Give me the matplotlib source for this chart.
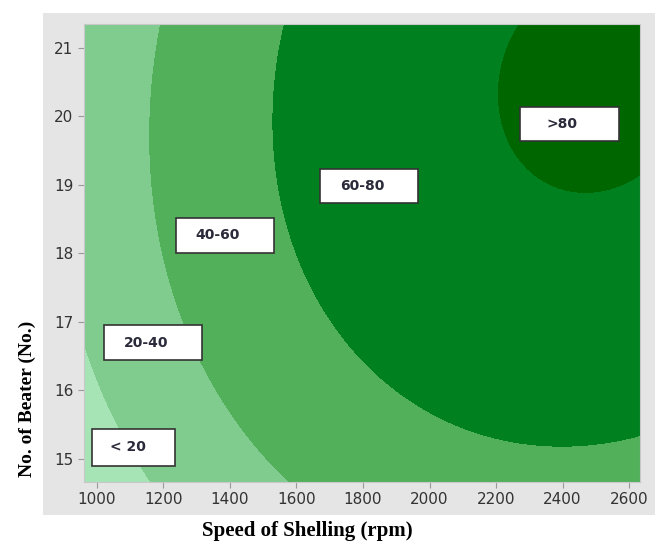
import numpy as np
import matplotlib.pyplot as plt
from matplotlib.patches import Rectangle

# fitted response surface
# Z = z_max - k_xx*u^2 - k_yy*v^2 + k_xy*u*v,  u=(speed-speed_opt)/1000, v=beater-beater_opt
z_max = 82.0
speed_opt = 2500.0
beater_opt = 20.49
k_xx = 23.6
k_yy = 0.79
k_xy = 0.91

speed_range = [961, 2633]
beater_range = [14.66, 21.35]

levels = [-100, 20, 40, 60, 80, 200]
level_labels = ["< 20", "20-40", "40-60", "60-80", ">80"]
level_colors = ["#a6e4b6", "#80cc8f", "#52b05b", "#00801f", "#006600"]

x_ticks = [1000, 1200, 1400, 1600, 1800, 2000, 2200, 2400, 2600]
y_ticks = [15, 16, 17, 18, 19, 20, 21]

# label box positions (data coords: left, bottom, width, height)
boxes = {
    "< 20": (985, 14.90, 250, 0.54),
    "20-40": (1020, 16.44, 295, 0.51),
    "40-60": (1237, 18.01, 295, 0.51),
    "60-80": (1670, 18.73, 295, 0.50),
    ">80": (2271, 19.64, 298, 0.50),
}

speed = np.linspace(speed_range[0], speed_range[1], 400)
beater = np.linspace(beater_range[0], beater_range[1], 400)
X, Y = np.meshgrid(speed, beater)
U = (X - speed_opt) / 1000.0
V = Y - beater_opt
Z = z_max - k_xx * U**2 - k_yy * V**2 + k_xy * U * V

fig = plt.figure(figsize=(6.59, 5.44), dpi=100)
fig.patches.append(Rectangle((43 / 659, 1 - 515 / 544), 612 / 659, 502 / 544,
                             transform=fig.transFigure, facecolor="#e5e5e5",
                             edgecolor="none", zorder=-10))
ax = fig.add_axes([84 / 659, 62 / 544, 556 / 659, 458 / 544])

ax.contourf(X, Y, Z, levels=levels, colors=level_colors)
ax.set_xlim(speed_range)
ax.set_ylim(beater_range)

for lab in level_labels:
    x0, y0, w, h = boxes[lab]
    ax.add_patch(Rectangle((x0, y0), w, h, facecolor="white", edgecolor="#333333",
                           linewidth=1.2, zorder=5))
    ax.text(x0 + w * 0.43, y0 + h / 2, lab, ha="center", va="center",
            fontsize=10, fontweight="bold", color="#2a2a3a", zorder=6)

ax.set_xticks(x_ticks)
ax.set_yticks(y_ticks)
ax.tick_params(labelsize=11, colors="#999999", labelcolor="#333333", length=4)
for s in ax.spines.values():
    s.set_color("#c8c8c8")

fig.text(307 / 659, 1 - 531 / 544, "Speed of Shelling (rpm)", ha="center", va="center",
         fontsize=15, fontweight="bold", family="Liberation Serif")
fig.text(27 / 659, 1 - 399 / 544, "No. of Beater (No.)", ha="center", va="center",
         rotation=90, fontsize=14, fontweight="bold", family="Liberation Serif")

fig.savefig("out.png", dpi=100, facecolor="white")
